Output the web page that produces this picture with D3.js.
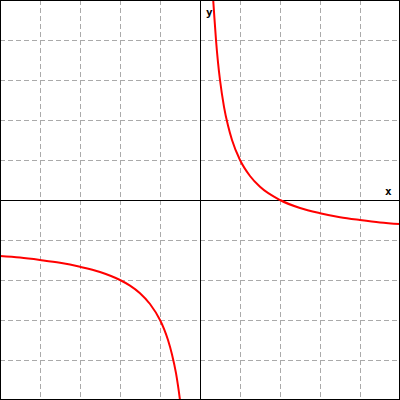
<!DOCTYPE html>
<html><head><meta charset="utf-8">
<script src="https://cdn.jsdelivr.net/npm/d3@7"></script>
<style>body{margin:0;background:#fff}svg{display:block}</style>
</head><body>
<script>
const xTicks = [-4,-3,-2,-1,1,2,3,4];
const yTicks = [-4,-3,-2,-1,1,2,3,4];
const leftX = [-5,-4.5,-4,-3.5,-3,-2.5,-2,-1.75,-1.5,-1.25,-1,-0.9,-0.8,-0.7,-0.6,-0.55,-0.5];
const leftY = [-1.4,-1.44,-1.5,-1.57,-1.67,-1.8,-2,-2.14,-2.33,-2.6,-3,-3.22,-3.5,-3.86,-4.33,-4.64,-5];
const rightX = [0.33,0.36,0.4,0.45,0.5,0.6,0.7,0.8,1,1.25,1.5,2,2.5,3,3.5,4,4.5,5];
const rightY = [5,4.56,4,3.44,3,2.33,1.86,1.5,1,0.6,0.33,0,-0.2,-0.33,-0.43,-0.5,-0.56,-0.6];

const W=400,H=400;
const x=d3.scaleLinear().domain([-5,5]).range([0,W]);
const y=d3.scaleLinear().domain([-5,5]).range([H,0]);
const svg=d3.select("body").append("svg").attr("width",W).attr("height",H);
svg.append("rect").attr("width",W).attr("height",H).attr("fill","#fff");
const g=svg.append("g").attr("shape-rendering","crispEdges");
g.selectAll(".vx").data(xTicks).join("line")
 .attr("x1",d=>x(d)+0.5).attr("x2",d=>x(d)+0.5).attr("y1",0).attr("y2",H)
 .attr("stroke","#aaa").attr("stroke-dasharray","5,3");
g.selectAll(".hy").data(yTicks).join("line")
 .attr("y1",d=>y(d)+0.5).attr("y2",d=>y(d)+0.5).attr("x1",0).attr("x2",W)
 .attr("stroke","#aaa").attr("stroke-dasharray","5,3");
g.append("line").attr("x1",x(0)+0.5).attr("x2",x(0)+0.5).attr("y1",0).attr("y2",H).attr("stroke","#000");
g.append("line").attr("y1",y(0)+0.5).attr("y2",y(0)+0.5).attr("x1",0).attr("x2",W).attr("stroke","#000");
const line=d3.line().x(d=>x(d[0])).y(d=>y(d[1])).curve(d3.curveMonotoneX);
[[leftX,leftY],[rightX,rightY]].forEach(([xs,ys])=>{
  svg.append("path").datum(xs.map((v,i)=>[v,ys[i]])).attr("d",line)
   .attr("fill","none").attr("stroke","#f00").attr("stroke-width",2);
});
svg.append("text").attr("x",206).attr("y",16).text("y")
 .attr("font-family","DejaVu Sans Mono").attr("font-weight","bold").attr("font-size",11);
svg.append("text").attr("x",385).attr("y",195).text("x")
 .attr("font-family","DejaVu Sans Mono").attr("font-weight","bold").attr("font-size",11);
svg.append("rect").attr("x",0.5).attr("y",0.5).attr("width",W-1).attr("height",H-1)
 .attr("fill","none").attr("stroke","#000").attr("shape-rendering","crispEdges");
</script>
</body></html>
